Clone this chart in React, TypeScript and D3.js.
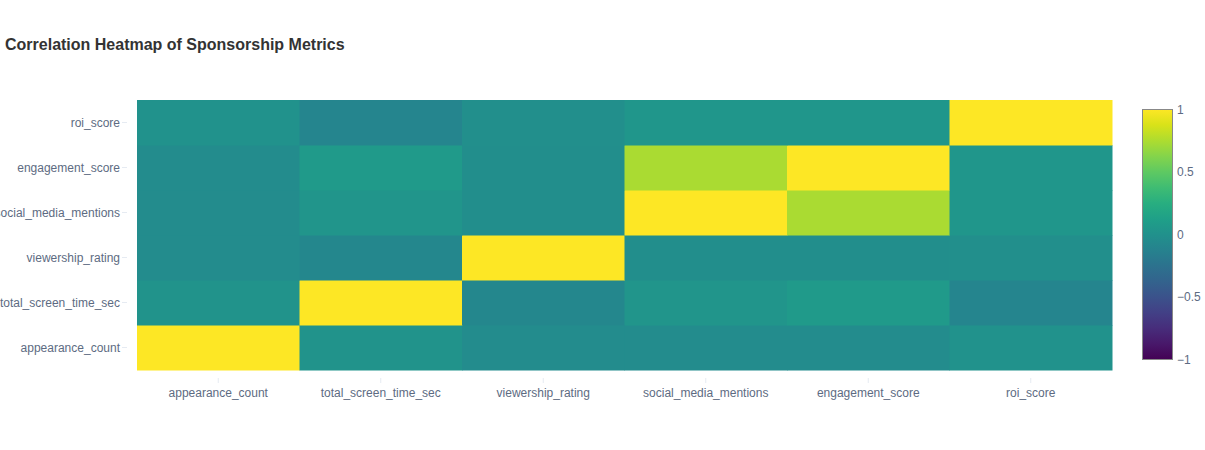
import React from "react";
import * as d3 from "d3";

// ---- data ----
const metrics = [
  "appearance_count",
  "total_screen_time_sec",
  "viewership_rating",
  "social_media_mentions",
  "engagement_score",
  "roi_score",
];
// correlation rows (same order as metrics)
const appearanceRow = [1, 0.02, -0.04, -0.04, -0.045, 0.01];
const screenTimeRow = [0.02, 1, -0.08, 0.03, 0.075, -0.1];
const viewershipRow = [-0.04, -0.08, 1, -0.025, -0.025, -0.02];
const socialRow = [-0.04, 0.03, -0.025, 1, 0.74, 0.04];
const engagementRow = [-0.045, 0.075, -0.025, 0.74, 1, 0.04];
const roiRow = [0.01, -0.1, -0.02, 0.04, 0.04, 1];
const colorbarTicks = [-1, -0.5, 0, 0.5, 1];
const viridisStops = [
  "#440154", "#48186a", "#472d7b", "#424086", "#3b528b", "#33638d",
  "#2c728e", "#26828e", "#21918c", "#1fa088", "#28ae80", "#3fbc73",
  "#5ec962", "#84d44b", "#addc30", "#d8e219", "#fde725",
];

const matrix = [appearanceRow, screenTimeRow, viewershipRow, socialRow, engagementRow, roiRow];

const W = 1205;
const H = 450;
const plot = { left: 137, right: 1112, top: 100, bottom: 370 };
const cb = { left: 1142.5, right: 1172.5, top: 109.5, bottom: 359.5 };
const tickColor = "#5d6b82";
const font = "Arial, 'Liberation Sans', sans-serif";

const viridis = d3
  .scaleLinear<string>()
  .domain(viridisStops.map((_, i) => i / (viridisStops.length - 1)))
  .range(viridisStops)
  .interpolate(d3.interpolateRgb);
const color = (v: number) => viridis((v + 1) / 2);

export default function App() {
  const x = d3.scaleBand<string>().domain(metrics).range([plot.left, plot.right]);
  const y = d3.scaleBand<string>().domain(metrics).range([plot.bottom, plot.top]);
  const cbScale = d3.scaleLinear().domain([-1, 1]).range([cb.bottom, cb.top]);

  const cells: React.ReactNode[] = [];
  matrix.forEach((row, ri) => {
    row.forEach((v, ci) => {
      cells.push(
        <rect
          key={`${ri}-${ci}`}
          x={x(metrics[ci])!}
          y={y(metrics[ri])!}
          width={x.bandwidth() + 0.5}
          height={y.bandwidth() + 0.5}
          fill={color(v)}
        />
      );
    });
  });

  return (
    <svg
      width={W}
      height={H}
      style={{ position: "absolute", left: 0, top: 0, background: "#fff" }}
    >
      <defs>
        <linearGradient id="cbgrad" x1="0" y1="1" x2="0" y2="0">
          {viridisStops.map((c, i) => (
            <stop key={i} offset={`${(i / (viridisStops.length - 1)) * 100}%`} stopColor={c} />
          ))}
        </linearGradient>
      </defs>
      <text
        x={5}
        y={50}
        fontFamily={font}
        fontWeight="bold"
        fontSize={16}
        fill="#333"
      >
        Correlation Heatmap of Sponsorship Metrics
      </text>
      <g>{cells}</g>
      {/* y axis */}
      <g>
        {metrics.map((m) => {
          const cy = y(m)! + y.bandwidth() / 2;
          return (
            <g key={m}>
              <line x1={122} x2={127} y1={cy} y2={cy} stroke="#e6ebf2" strokeWidth={1} />
              <text
                x={120}
                y={cy}
                dy="0.35em"
                textAnchor="end"
                fontFamily={font}
                fontSize={12}
                fill={tickColor}
              >
                {m}
              </text>
            </g>
          );
        })}
      </g>
      {/* x axis */}
      <g>
        {metrics.map((m) => {
          const cx = x(m)! + x.bandwidth() / 2;
          return (
            <g key={m}>
              <line x1={cx} x2={cx} y1={378} y2={383} stroke="#e6ebf2" strokeWidth={1} />
              <text
                x={cx}
                y={393}
                dy="0.35em"
                textAnchor="middle"
                fontFamily={font}
                fontSize={12}
                fill={tickColor}
              >
                {m}
              </text>
            </g>
          );
        })}
      </g>
      {/* colorbar */}
      <rect
        x={cb.left}
        y={cb.top}
        width={cb.right - cb.left}
        height={cb.bottom - cb.top}
        fill="url(#cbgrad)"
        stroke="#888"
        strokeWidth={1}
      />
      {colorbarTicks.map((t) => (
        <text
          key={t}
          x={1177}
          y={cbScale(t)}
          dy="0.35em"
          fontFamily={font}
          fontSize={12}
          fill={tickColor}
        >
          {t < 0 ? "\u2212" + Math.abs(t) : String(t)}
        </text>
      ))}
    </svg>
  );
}
